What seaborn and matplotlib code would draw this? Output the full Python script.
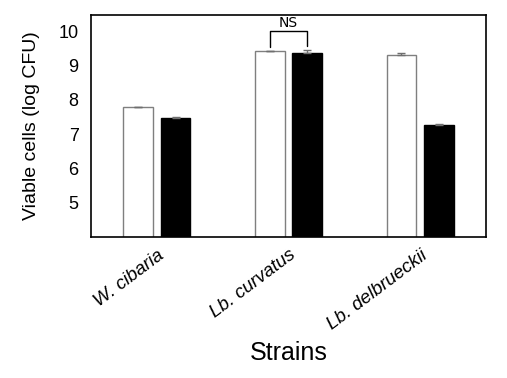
import numpy as np
import pandas as pd
import matplotlib
matplotlib.use("Agg")
import matplotlib.pyplot as plt
import seaborn as sns

# values
strains = ["W. cibaria", "Lb. curvatus", "Lb. delbrueckii"]
groups = ["open", "filled"]
open_vals = [7.78, 9.41, 9.30]
filled_vals = [7.47, 9.38, 7.27]
open_err = [0.01, 0.02, 0.08]
filled_err = [0.02, 0.08, 0.02]
yticks = [5, 6, 7, 8, 9, 10]

df = pd.DataFrame({
    "strain": strains * 2,
    "group": [groups[0]] * 3 + [groups[1]] * 3,
    "cells": open_vals + filled_vals,
    "err": open_err + filled_err,
})

sns.set_style("white")
plt.rcParams["font.family"] = ["Liberation Sans", "DejaVu Sans"]
for k in ["text.color", "axes.labelcolor", "xtick.color", "ytick.color"]:
    plt.rcParams[k] = "black"

fig = plt.figure(figsize=(5.07, 3.78), dpi=100)
ax = fig.add_axes([0.1795, 0.373, 0.779, 0.587])

sns.barplot(data=df, x="strain", y="cells", hue="group", order=strains,
            hue_order=groups, palette={"open": "white", "filled": "black"},
            width=0.57, gap=0.21, legend=False, errorbar=None, ax=ax)

# outlines + error bars, positions taken from the drawn bars
n = len(strains)
for i, p in enumerate(ax.patches[:2 * n]):
    g = i // n
    if g == 0:
        p.set_edgecolor("#7f7f7f")
    else:
        p.set_edgecolor("black")
    p.set_linewidth(1.0)
    cx = p.get_x() + p.get_width() / 2
    ax.errorbar(cx, p.get_height(), yerr=[[0], [df["err"].iloc[i]]],
                color="#6f6f6f", capsize=3, elinewidth=1, capthick=1)

# NS bracket over Lb. curvatus
b1 = ax.patches[1]
b2 = ax.patches[n + 1]
x1 = b1.get_x() + b1.get_width() / 2
x2 = b2.get_x() + b2.get_width() / 2
ytop = 10.0
ax.plot([x1, x1, x2, x2], [open_vals[1] + 0.12, ytop, ytop, filled_vals[1] + 0.2],
        color="black", lw=1)
ax.text((x1 + x2) / 2, ytop + 0.03, "NS", ha="center", va="bottom", fontsize=10,
        family=["Liberation Sans Narrow", "DejaVu Sans"])

ax.set_ylim(4, 10.47)
ax.set_xlim(-0.5, 2.5)
ax.set_yticks(yticks)
ax.set_yticklabels([str(t) for t in yticks], fontsize=13)
ax.set_xticks(range(n))
ax.set_xticklabels(strains, rotation=37, ha="right", rotation_mode="anchor",
                   fontsize=13.5, style="italic")
ax.tick_params(axis="y", length=0, pad=9)
ax.tick_params(axis="x", length=0, pad=7)
ax.set_ylabel("Viable cells (log CFU)", fontsize=14, labelpad=13)
ax.set_xlabel("Strains", fontsize=18, labelpad=6)
for s in ax.spines.values():
    s.set_color("black")
    s.set_linewidth(1.2)

fig.savefig("out.png", dpi=100, facecolor="white")
